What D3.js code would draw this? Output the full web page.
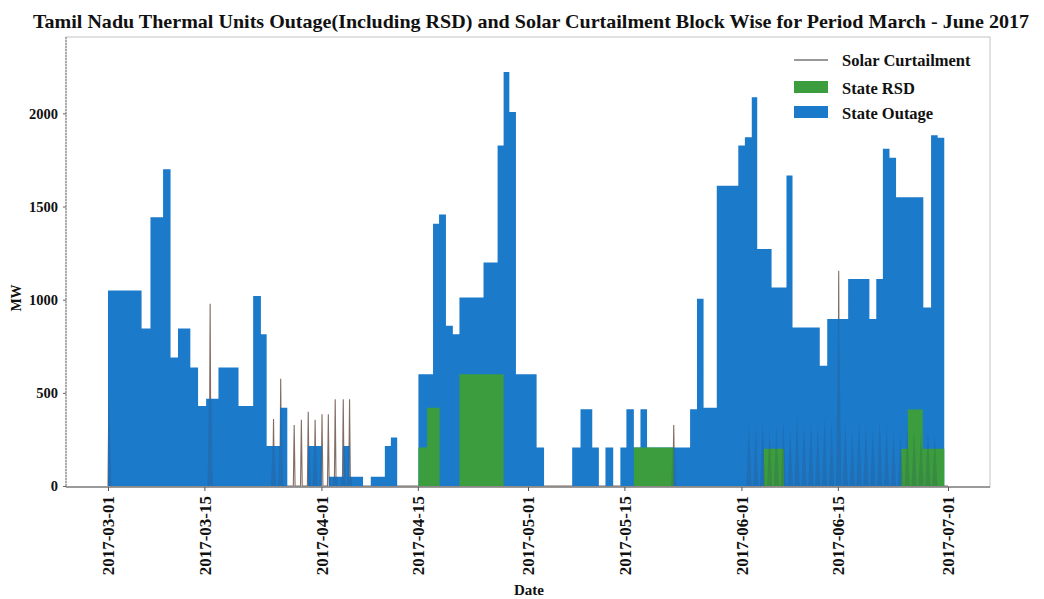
<!DOCTYPE html>
<html>
<head>
<meta charset="utf-8">
<script src="https://cdn.jsdelivr.net/npm/d3@7"></script>
<style>
  html, body { margin: 0; padding: 0; background: #fff; }
  svg { display: block; }
  text { font-family: "Liberation Serif", "DejaVu Serif", serif; font-weight: bold; fill: #111; }
</style>
</head>
<body>
<svg id="chart" width="1044" height="599"></svg>
<script>
// Thermal outage (incl. RSD): step series, value holds from each start time
const outageTimes = [
  "2017-03-01 00:00", "2017-03-05 21:00", "2017-03-07 04:00", "2017-03-09 00:00", "2017-03-10 02:00",
  "2017-03-11 04:00", "2017-03-12 23:00", "2017-03-14 02:00", "2017-03-15 06:00", "2017-03-17 01:00",
  "2017-03-19 23:00", "2017-03-22 02:00", "2017-03-23 05:00", "2017-03-24 01:00", "2017-03-26 00:00",
  "2017-03-27 01:00", "2017-03-30 01:00", "2017-04-01 01:00", "2017-04-02 02:00", "2017-04-04 04:00",
  "2017-04-05 02:00", "2017-04-07 01:00", "2017-04-08 04:00", "2017-04-10 05:00", "2017-04-11 02:00",
  "2017-04-12 00:00", "2017-04-15 02:00", "2017-04-17 05:00", "2017-04-18 02:00", "2017-04-19 02:00",
  "2017-04-20 02:00", "2017-04-21 01:00", "2017-04-24 13:00", "2017-04-26 14:00", "2017-04-27 11:00",
  "2017-04-28 07:00", "2017-04-29 06:00", "2017-05-02 06:00", "2017-05-03 08:00", "2017-05-07 10:00",
  "2017-05-08 15:00", "2017-05-10 08:00", "2017-05-11 07:00", "2017-05-12 06:00", "2017-05-13 09:00",
  "2017-05-14 10:00", "2017-05-15 07:00", "2017-05-16 09:00", "2017-05-17 08:00", "2017-05-18 07:00",
  "2017-05-24 13:00", "2017-05-25 13:00", "2017-05-26 12:00", "2017-05-28 10:00", "2017-05-31 13:00",
  "2017-06-01 12:00", "2017-06-02 12:00", "2017-06-03 07:00", "2017-06-05 09:00", "2017-06-07 13:00",
  "2017-06-08 10:00", "2017-06-12 09:00", "2017-06-13 11:00", "2017-06-16 12:00", "2017-06-19 14:00",
  "2017-06-20 14:00", "2017-06-21 13:00", "2017-06-22 12:00", "2017-06-23 11:00", "2017-06-27 10:00",
  "2017-06-28 13:00", "2017-06-29 12:00", "2017-06-30 11:00"
];
const outageMW = [
  1050, 845, 1443, 1700, 690,
  845, 636, 430, 468, 636,
  430, 1020, 815, 215, 420,
  0, 215, 0, 50, 215,
  50, 0, 50, 215, 260,
  0, 600, 1407, 1457, 860,
  815, 1012, 1200, 1828, 2222,
  2007, 600, 206, 0, 206,
  412, 206, 0, 206, 0,
  206, 412, 206, 412, 206,
  412, 1005, 420, 1612, 1828,
  1872, 2087, 1272, 1066, 1667,
  851, 645, 896, 1111, 896,
  1111, 1810, 1762, 1550, 958,
  1882, 1869, 0
];

// State reserve shutdown: step series
const rsdTimes = [
  "2017-04-15 02:00", "2017-04-16 08:00", "2017-04-18 04:00", "2017-04-21 01:00", "2017-04-27 11:00",
  "2017-05-16 09:00", "2017-05-22 04:00", "2017-06-04 06:00", "2017-06-07 04:00", "2017-06-24 05:00",
  "2017-06-25 04:00", "2017-06-27 08:00", "2017-06-30 11:00"
];
const rsdMW = [206, 420, 0, 600, 0, 206, 0, 200, 0, 200, 410, 200, 0];

// Solar curtailment: block-wise peaks for each day
const curtailTimes = [
  "2017-03-01 03:00", "2017-03-15 20:00", "2017-03-25 01:00", "2017-03-26 02:00", "2017-03-28 01:00",
  "2017-03-29 02:00", "2017-03-30 02:00", "2017-03-31 02:00", "2017-04-01 02:00", "2017-04-02 00:00",
  "2017-04-03 00:00", "2017-04-04 04:00", "2017-04-05 02:00", "2017-05-22 04:00",
  "2017-06-02 02:00", "2017-06-03 02:00", "2017-06-04 02:00", "2017-06-05 02:00", "2017-06-06 02:00",
  "2017-06-07 02:00", "2017-06-08 02:00", "2017-06-09 02:00", "2017-06-10 02:00", "2017-06-11 02:00",
  "2017-06-12 02:00", "2017-06-13 02:00", "2017-06-14 02:00", "2017-06-15 03:00", "2017-06-16 02:00",
  "2017-06-17 02:00", "2017-06-18 02:00", "2017-06-19 02:00", "2017-06-20 02:00", "2017-06-21 02:00",
  "2017-06-22 02:00", "2017-06-23 02:00", "2017-06-24 02:00", "2017-06-25 02:00", "2017-06-26 02:00",
  "2017-06-27 02:00", "2017-06-28 02:00", "2017-06-29 02:00"
];
const curtailMW = [
  490, 978, 360, 575, 328,
  355, 398, 355, 385, 385,
  465, 465, 465, 328,
  340, 320, 360, 300, 330,
  350, 310, 380, 340, 360,
  330, 370, 350, 1156, 340,
  300, 360, 330, 310, 350,
  330, 300, 280, 320, 300,
  290, 310, 280
];

const xTickLabels = ["2017-03-01", "2017-03-15", "2017-04-01", "2017-04-15", "2017-05-01",
                     "2017-05-15", "2017-06-01", "2017-06-15", "2017-07-01"];
const yTickValues = [0, 500, 1000, 1500, 2000];

const seriesNames = ["Solar Curtailment", "State RSD", "State Outage"];
const colors = { outage: "#1c7acb", rsd: "#3b9d3e", curtail: "#6d5246" };

const parseTime = d3.utcParse("%Y-%m-%d %H:%M");
const parseDay = d3.utcParse("%Y-%m-%d");

const svg = d3.select("#chart");
const plot = { left: 66, right: 990, top: 37, bottom: 487 };

// Date axis with 5% padding around the March – June span
const start = parseDay("2017-03-01"), end = parseDay("2017-07-01");
const pad = (end - start) * 0.05;
const x = d3.scaleUtc()
  .domain([new Date(+start - pad), new Date(+end + pad)])
  .range([plot.left, plot.right]);
const y = d3.scaleLinear().domain([0, 2410]).range([plot.bottom - 1, plot.top]);

const stepRows = (times, vals) => times.map((t, i) => ({ t: parseTime(t), v: vals[i] }));
const outage = stepRows(outageTimes, outageMW);
const rsd = stepRows(rsdTimes, rsdMW);

const area = d3.area()
  .curve(d3.curveStepAfter)
  .x(d => x(d.t))
  .y0(y(0))
  .y1(d => y(d.v));

// Curtailment as a line with a hump at each daily peak
function humps(halfHours) {
  const hw = halfHours * 3600 * 1000;
  const pts = [{ t: new Date(+start), v: 0 }];
  curtailTimes.forEach((s, i) => {
    const t = parseTime(s);
    pts.push({ t: new Date(+t - hw), v: 0 });
    pts.push({ t: t, v: curtailMW[i] });
    pts.push({ t: new Date(+t + hw), v: 0 });
  });
  pts.push({ t: new Date(+end), v: 0 });
  return pts;
}
const line = d3.line().x(d => x(d.t)).y(d => y(d.v));
const humpArea = d3.area().x(d => x(d.t)).y0(y(0)).y1(d => y(d.v));

const defs = svg.append("defs");
defs.append("clipPath").attr("id", "outage-clip")
  .append("path").datum(outage).attr("d", area);

const g = svg.append("g");

g.append("path").datum(humps(3))
  .attr("d", line)
  .attr("fill", "none")
  .attr("stroke", colors.curtail)
  .attr("stroke-width", 1.1)
  .attr("stroke-opacity", 0.85);

g.append("path").datum(outage)
  .attr("d", area)
  .attr("fill", colors.outage);

g.append("path").datum(rsd)
  .attr("d", area)
  .attr("fill", colors.rsd);

// curtailment seen through the filled areas
g.append("path").datum(humps(9))
  .attr("clip-path", "url(#outage-clip)")
  .attr("d", humpArea)
  .attr("fill", "#33405a")
  .attr("fill-opacity", 0.2);

// Frame
svg.append("rect")
  .attr("x", plot.left).attr("y", plot.top)
  .attr("width", plot.right - plot.left).attr("height", plot.bottom - plot.top)
  .attr("fill", "none").attr("stroke", "#c4c4c4").attr("stroke-width", 1);
svg.append("line")
  .attr("x1", plot.left).attr("x2", plot.left)
  .attr("y1", plot.top).attr("y2", plot.bottom)
  .attr("stroke", "#8a8a8a").attr("stroke-width", 1.2)
  .attr("stroke-dasharray", "2,1");
svg.append("line")
  .attr("x1", plot.left).attr("x2", plot.right)
  .attr("y1", plot.bottom).attr("y2", plot.bottom)
  .attr("stroke", "#555").attr("stroke-width", 1.2);

// Y axis
const yAxis = d3.axisLeft(y).tickValues(yTickValues).tickSize(3).tickPadding(5).tickFormat(d3.format("d"));
const ya = svg.append("g").attr("transform", `translate(${plot.left},0)`).call(yAxis);
ya.select(".domain").remove();
ya.selectAll(".tick line").attr("stroke", "#666");
ya.selectAll("text").style("font-size", "14.5px").style("font-family", "Liberation Serif").style("font-weight", "bold").attr("fill", "#111");

// X axis
const xTicks = xTickLabels.map(s => parseDay(s));
const xAxis = d3.axisBottom(x).tickValues(xTicks).tickSize(4).tickFormat(d3.utcFormat("%Y-%m-%d"));
const xa = svg.append("g").attr("transform", `translate(0,${plot.bottom})`).call(xAxis);
xa.select(".domain").remove();
xa.selectAll(".tick line").attr("stroke", "#555");
xa.selectAll("text")
  .style("font-size", "17px").style("font-family", "Liberation Serif").style("font-weight", "bold")
  .attr("fill", "#111")
  .attr("transform", "rotate(-90)")
  .attr("text-anchor", "end")
  .attr("x", -9).attr("y", 0).attr("dy", "0.35em");

// Titles
svg.append("text")
  .attr("x", 531).attr("y", 28)
  .attr("text-anchor", "middle")
  .attr("textLength", 996).attr("lengthAdjust", "spacingAndGlyphs")
  .style("font-size", "19px")
  .text("Tamil Nadu Thermal Units Outage(Including RSD) and Solar Curtailment Block Wise for Period March - June 2017");

svg.append("text")
  .attr("transform", "translate(21,298) rotate(-90)")
  .attr("text-anchor", "middle")
  .style("font-size", "14px")
  .text("MW");

svg.append("text")
  .attr("x", 529).attr("y", 595)
  .attr("text-anchor", "middle")
  .style("font-size", "15px")
  .text("Date");

// Legend
const lg = svg.append("g").attr("transform", "translate(794,0)");
lg.append("line").attr("x1", 0).attr("x2", 34).attr("y1", 60).attr("y2", 60)
  .attr("stroke", "#333").attr("stroke-width", 1.2);
lg.append("rect").attr("x", 0).attr("y", 81).attr("width", 34).attr("height", 12).attr("fill", colors.rsd);
lg.append("rect").attr("x", 0).attr("y", 106).attr("width", 34).attr("height", 12).attr("fill", colors.outage);
[66, 94, 119].forEach((yy, i) => {
  lg.append("text").attr("x", 48).attr("y", yy).style("font-size", "16.5px").text(seriesNames[i]);
});
</script>
</body>
</html>
